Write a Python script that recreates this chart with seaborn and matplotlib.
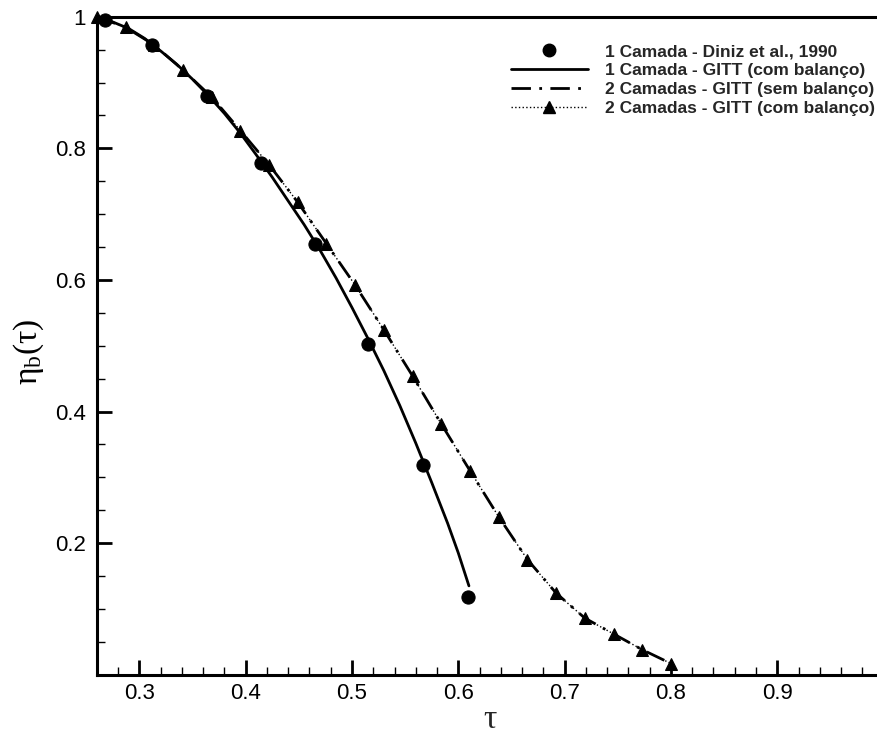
import matplotlib
matplotlib.use("Agg")
import matplotlib.pyplot as plt
from matplotlib.lines import Line2D
from matplotlib.ticker import MultipleLocator, FixedLocator
import seaborn as sns
import pandas as pd

# ---- data ----
tau_diniz = [0.268, 0.312, 0.364, 0.414, 0.465, 0.515, 0.567, 0.609]
eta_diniz = [0.995, 0.957, 0.880, 0.778, 0.655, 0.502, 0.319, 0.118]

tau_1c = [0.260, 0.275, 0.290, 0.305, 0.320, 0.335, 0.350, 0.365, 0.380, 0.395, 0.410,
          0.425, 0.440, 0.455, 0.470, 0.485, 0.500, 0.515, 0.530, 0.545, 0.560,
          0.575, 0.590, 0.600, 0.610]
eta_1c = [1.000, 0.992, 0.982, 0.967, 0.948, 0.928, 0.905, 0.880, 0.853, 0.823, 0.790,
          0.756, 0.720, 0.684, 0.645, 0.603, 0.558, 0.511, 0.462, 0.409, 0.352,
          0.292, 0.230, 0.185, 0.135]

tau_2c = [0.260, 0.287, 0.314, 0.341, 0.368, 0.395, 0.422, 0.449, 0.476, 0.503, 0.530,
          0.557, 0.584, 0.611, 0.638, 0.665, 0.692, 0.719, 0.746, 0.773, 0.800]
eta_2c_sem = [1.000, 0.984, 0.957, 0.919, 0.878, 0.827, 0.775, 0.718, 0.655, 0.592, 0.524,
              0.454, 0.381, 0.310, 0.240, 0.175, 0.124, 0.086, 0.062, 0.038, 0.017]
eta_2c_com = [1.000, 0.984, 0.957, 0.919, 0.878, 0.827, 0.775, 0.718, 0.655, 0.592, 0.524,
              0.454, 0.381, 0.310, 0.240, 0.175, 0.124, 0.086, 0.062, 0.038, 0.017]

labels = ["1 Camada - Diniz et al., 1990",
          "1 Camada - GITT (com balanço)",
          "2 Camadas - GITT (sem balanço)",
          "2 Camadas - GITT (com balanço)"]

x_ticks = [0.3, 0.4, 0.5, 0.6, 0.7, 0.8, 0.9]
y_ticks = [0.2, 0.4, 0.6, 0.8, 1.0]
y_ticklabels = ["0.2", "0.4", "0.6", "0.8", "1"]

# ---- style ----
sns.set_theme(style="white")
plt.rcParams["font.family"] = ["Liberation Sans", "DejaVu Sans"]

fig = plt.figure(figsize=(8.78, 7.38), dpi=100)
ax = fig.add_axes([96.8 / 878, 63.3 / 738, (883.6 - 96.8) / 878, (674.7 - 16.7) / 738])

df_1c = pd.DataFrame({"tau": tau_1c, "eta": eta_1c})
df_sem = pd.DataFrame({"tau": tau_2c, "eta": eta_2c_sem})
df_com = pd.DataFrame({"tau": tau_2c, "eta": eta_2c_com})
df_d = pd.DataFrame({"tau": tau_diniz, "eta": eta_diniz})

sns.lineplot(data=df_1c, x="tau", y="eta", ax=ax, color="black", lw=2.0,
             sort=False, estimator=None, legend=False)
sns.lineplot(data=df_com, x="tau", y="eta", ax=ax, color="black", lw=1.0,
             linestyle=":", marker="^", markersize=9, markeredgecolor="black",
             sort=False, estimator=None, legend=False, clip_on=False)
sns.lineplot(data=df_sem, x="tau", y="eta", ax=ax, color="black", lw=2.0,
             sort=False, estimator=None, legend=False)
ax.lines[-1].set_dashes((7, 3, 1, 3))
sns.scatterplot(data=df_d, x="tau", y="eta", ax=ax, color="black", s=90,
                marker="o", edgecolor="black", legend=False, zorder=5, clip_on=False)

ax.set_xlim(0.26, 1.0)
ax.set_ylim(0.0, 1.0)

ax.xaxis.set_major_locator(FixedLocator(x_ticks))
ax.xaxis.set_minor_locator(MultipleLocator(0.02))
ax.yaxis.set_major_locator(FixedLocator(y_ticks))
ax.set_yticklabels(y_ticklabels)
ax.yaxis.set_minor_locator(MultipleLocator(0.05))

ax.tick_params(axis="both", which="major", direction="in", length=10.5, width=2.0,
               labelsize=16, color="black", labelcolor="black", bottom=True, left=True,
               top=False, right=False)
ax.tick_params(axis="x", which="major", pad=6)
ax.tick_params(axis="y", which="major", pad=8)
ax.tick_params(axis="both", which="minor", direction="in", length=5.5, width=1.0,
               color="black", bottom=True, left=True, top=False, right=False)

for side in ["left", "bottom", "top", "right"]:
    ax.spines[side].set_color("black")
    ax.spines[side].set_linewidth(2.2)

ax.set_xlabel("τ", fontsize=24, family=["Liberation Serif", "DejaVu Serif"], labelpad=0)
ax.set_ylabel("")
fig.text(29 / 878, 1 - 352 / 738, r"$\mathregular{η_{b}(τ)}$", rotation=90,
         ha="center", va="center", fontsize=24, color="black",
         family=["Liberation Serif", "DejaVu Serif"])

handles = [
    Line2D([], [], color="black", marker="o", linestyle="none", markersize=9),
    Line2D([], [], color="black", lw=2.0),
    Line2D([], [], color="black", lw=2.0, dashes=(7, 3, 1, 3)),
    Line2D([], [], color="black", lw=1.0, linestyle=":", marker="^", markersize=9),
]
leg = fig.legend(handles, labels, loc="upper right",
                 bbox_to_anchor=(875 / 878, 1 - 44 / 738), frameon=False,
                 prop={"weight": "bold", "size": 12.5}, handlelength=4.4,
                 handletextpad=1.0, labelspacing=0.22, borderaxespad=0, borderpad=0)

fig.savefig("out.png", dpi=100)
